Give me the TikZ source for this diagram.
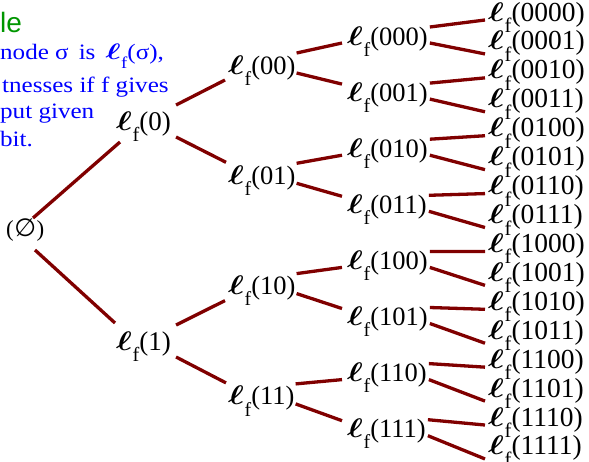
\documentclass[tikz,border=0pt]{standalone}
\usepackage{amsmath}
\usepackage{fontspec}
\setmainfont{Liberation Serif}
\newfontfamily\symfont{DejaVu Sans}
\newfontfamily\headfont{Liberation Sans}
\definecolor{branchred}{RGB}{128,0,0}
\definecolor{notegreen}{RGB}{0,150,0}
\definecolor{noteblue}{RGB}{0,0,255}
% witness label: bold script ell with a dropped upright f
\newcommand\ellf{\scalebox{1.35}[1.08]{$\boldsymbol{\ell}$}\kern0.02em\raisebox{-0.42em}{\scalebox{0.75}{f}}}
\newcommand\wit[1]{\ellf(#1)}
\newcommand\wide[1]{\scalebox{1.14}[1]{#1}}

\begin{document}
\begin{tikzpicture}[x=1pt,y=-1pt,
  lab/.style={anchor=base west, inner sep=0pt},
  lvA/.style={lab, font=\fontsize{27}{27}\selectfont},
  lvB/.style={lab, font=\fontsize{26.5}{26.5}\selectfont},
  lvC/.style={lab, font=\fontsize{26.5}{26.5}\selectfont},
  lvD/.style={lab, font=\fontsize{27.5}{27.5}\selectfont},
  note/.style={lab, text=noteblue, font=\fontsize{22}{22}\selectfont},
  twig/.style={draw=branchred, line width=3.3pt}]
\useasboundingbox (0,0) rectangle (589,461);

% heading and explanation
\node[lab, text=notegreen, font=\headfont\fontsize{28}{28}\selectfont] (hd) at (0,32) {le};
\node[note] (t1) at (0,59) {\wide{node σ\hspace{0.4em}is\hspace{0.4em}\ellf(σ),}};
\node[note] (t2) at (2,92) {\wide{tnesses if f gives}};
\node[note] (t3) at (0,118) {\wide{put given}};
\node[note] (t4) at (0,146) {\wide{bit.}};

% tree of witnesses
\node[lab, font=\fontsize{23}{23}\selectfont] (root) at (6,236)
  {(\kern0.5pt{\symfont\fontsize{25}{25}\selectfont ∅}\kern0.5pt)};

\node[lvA] (n0) at (116,130) {\wit{0}};
\node[lvA] (n1) at (116,350) {\wit{1}};

\foreach \b [count=\k from 0] in {00,01,10,11}
  \node[lvB] (n\b) at (228,{74+110.3*\k}) {\wit{\b}};

\foreach \b [count=\k from 0] in {000,001,010,011,100,101,110,111}
  \node[lvC] (n\b) at (347,{45+56.1*\k}) {\wit{\b}};

\foreach \b [count=\k from 0] in {0000,0001,0010,0011,0100,0101,0110,0111,1000,1001,1010,1011,1100,1101,1110,1111}
  \node[lvD] (n\b) at (488,{21+28.93*\k}) {\wit{\b}};

% branches
\draw[twig] ([shift={(27,-18)}]root.base west) -- ([shift={(4,12)}]n0.base west);
\draw[twig] ([shift={(29,14)}]root.base west) -- ([shift={(-1,-27)}]n1.base west);

\foreach \p in {0,1} {
  \draw[twig] ([shift={(5,-25)}]n\p.base east) -- ([shift={(-3,6)}]n\p0.base west);
  \draw[twig] ([shift={(5,7)}]n\p.base east) -- ([shift={(-2,-22)}]n\p1.base west);
}
\foreach \p in {00,01,10,11} {
  \draw[twig] ([shift={(1,-21)}]n\p.base east) -- ([shift={(-5,-2)}]n\p0.base west);
  \draw[twig] ([shift={(1,-1)}]n\p.base east) -- ([shift={(-5,-17)}]n\p1.base west);
}
\foreach \p in {000,001,010,011,100,101,110,111} {
  \draw[twig] ([shift={(2,-18)}]n\p.base east) -- ([shift={(-3,-1)}]n\p0.base west);
  \draw[twig] ([shift={(2,-2)}]n\p.base east) -- ([shift={(-3,4)}]n\p1.base west);
}
\end{tikzpicture}
\end{document}
